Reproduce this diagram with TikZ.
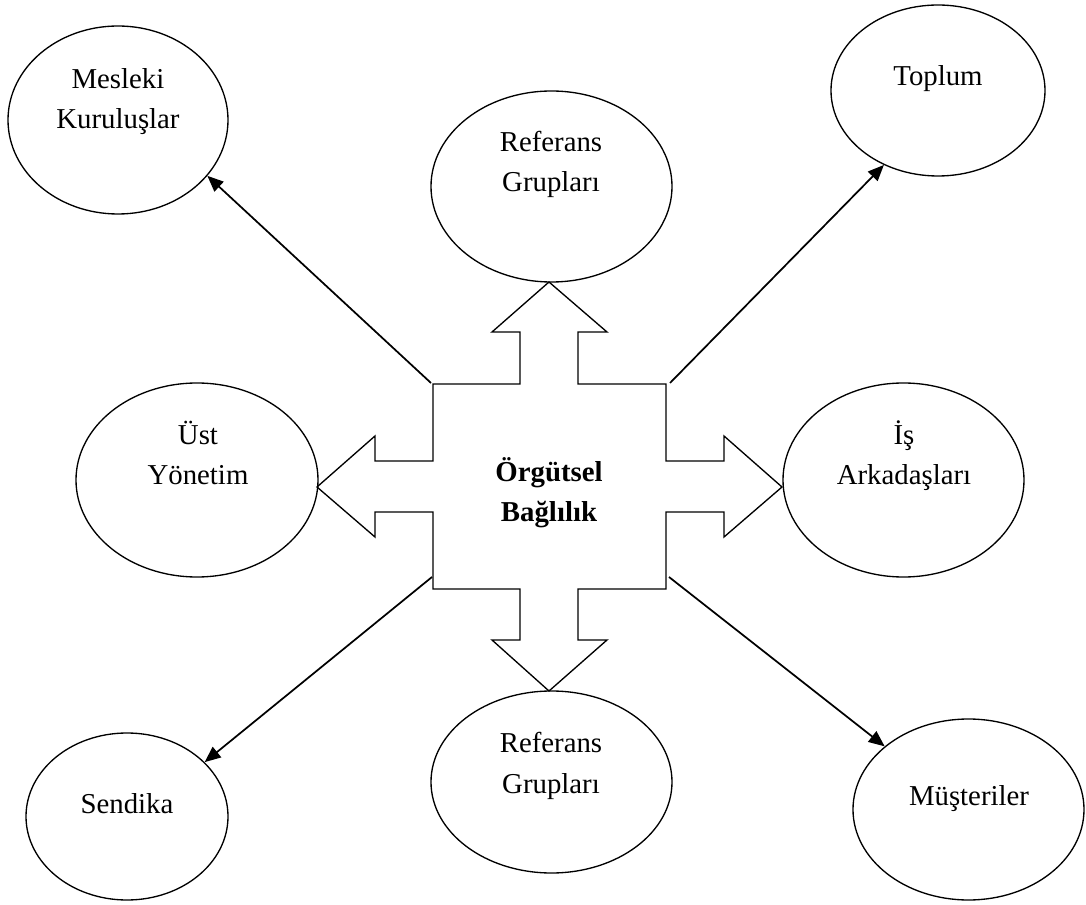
\documentclass[tikz,border=0pt]{standalone}
\usepackage{fontspec}
\setmainfont{Liberation Serif}
\usetikzlibrary{shapes.geometric,arrows.meta}
\begin{document}
\begin{tikzpicture}[x=0.75pt,y=-0.75pt,
  oval/.style={draw, ellipse, line width=1pt, inner sep=0pt},
  lbl/.style={font=\fontsize{21.6pt}{30.5pt}\selectfont, align=center, anchor=base, inner sep=0pt},
  link/.style={line width=1.3pt, -{Triangle[length=12pt,width=10pt]}},
  crossshape/.style={draw, line width=1pt, line join=miter}]
\useasboundingbox (0,0) rectangle (1086,905);
% ellipses
\node[oval, minimum width=165pt, minimum height=141pt] (mesleki) at (118,120) {};
\node[oval, minimum width=160.5pt, minimum height=128.25pt] (toplum) at (938,90.5) {};
\node[oval, minimum width=180.75pt, minimum height=143.25pt] (reftop) at (551.5,186.5) {};
\node[oval, minimum width=181.5pt, minimum height=145.5pt] (ust) at (197,480) {};
\node[oval, minimum width=180.75pt, minimum height=145.5pt] (is) at (903.5,480) {};
\node[oval, minimum width=151.5pt, minimum height=125.25pt] (sendika) at (127,816.5) {};
\node[oval, minimum width=180.75pt, minimum height=136.5pt] (refbot) at (551.5,782) {};
\node[oval, minimum width=173.25pt, minimum height=135.75pt] (musteri) at (968.5,809.5) {};
% labels (base anchor = baseline of the last line)
\node[lbl] (t-mesleki) at (118,129) {Mesleki\\Kuruluşlar};
\node[lbl] (t-toplum) at (938,86) {Toplum};
\node[lbl] (t-reftop) at (551,192) {Referans\\Grupları};
\node[lbl] (t-ust) at (198,485) {Üst\\Yönetim};
\node[lbl] (t-is) at (904,485) {İş\\Arkadaşları};
\node[lbl] (t-sendika) at (127,813) {Sendika};
\node[lbl] (t-refbot) at (551,793) {Referans\\Grupları};
\node[lbl] (t-musteri) at (969,805) {Müşteriler};
% central cross
\draw[crossshape] (433,384) -- (520,384) -- (520,332) -- (492,332) -- (549,282) -- (607,332) -- (578,332) -- (578,384)
  -- (666,384) -- (666,461) -- (724,461) -- (724,436) -- (782,487) -- (724,537) -- (724,512) -- (666,512)
  -- (666,589) -- (578,589) -- (578,640) -- (607,640) -- (549,691) -- (492,640) -- (520,640) -- (520,589)
  -- (433,589) -- (433,512) -- (375,512) -- (375,537) -- (317,487) -- (375,436) -- (375,461) -- (433,461) -- cycle;
\node[lbl, font=\fontsize{21.6pt}{30.5pt}\selectfont\bfseries] (core) at (549,522) {Örgütsel\\Bağlılık};
% connector start points
\coordinate (c-nw) at (431,383);
\coordinate (c-ne) at (670,383);
\coordinate (c-sw) at (432,577);
\coordinate (c-se) at (669,577);
% connectors
\draw[link] (c-nw) -- (mesleki.-32.6);
\draw[link] (c-ne) -- (toplum.-126.1);
\draw[link] (c-sw) -- (sendika.35.2);
\draw[link] (c-se) -- (musteri.143.8);
\end{tikzpicture}
\end{document}
